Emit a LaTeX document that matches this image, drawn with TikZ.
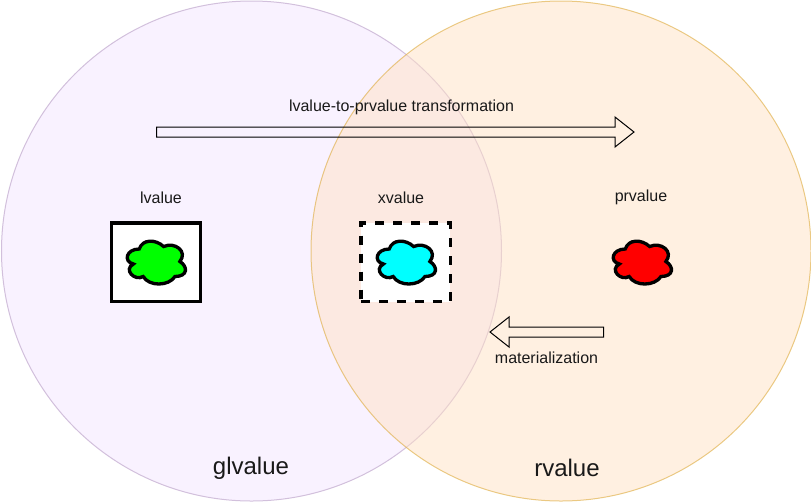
\documentclass[tikz,border=0pt]{standalone}
\usepackage{fontspec}
\setmainfont{Liberation Sans}
\definecolor{lfill}{HTML}{F9F2FF}
\definecolor{lline}{HTML}{D2C0DC}
\definecolor{rfill}{HTML}{FFE1C4}
\definecolor{rline}{HTML}{DDAA3A}
\definecolor{cgreen}{HTML}{00FF00}
\definecolor{ccyan}{HTML}{00FFFF}
\definecolor{cred}{HTML}{FF0000}
\tikzset{
  x=0.75pt,y=-0.75pt,
  lbl/.style={inner sep=0pt,font=\fontsize{12pt}{14pt}\selectfont,text=black!90},
  biglbl/.style={inner sep=0pt,font=\fontsize{18pt}{21pt}\selectfont,text=black!90},
  boxstyle/.style={rectangle,minimum width=67pt,minimum height=59pt,inner sep=0pt,fill=white,draw=black,line width=2.5pt},
  bigarrow/.style={draw=black,line width=0.75pt,line join=miter},
  pics/cloudshape/.style={code={
    \draw[line width=2.5pt,fill=#1,draw=black]
      (16.25,12.5) .. controls (3.25,12.5) and (0,25) .. (10.4,27.5)
      .. controls (0,33) and (11.7,45) .. (20.15,40)
      .. controls (26,50) and (45.5,50) .. (52,40)
      .. controls (65,40) and (65,30) .. (56.875,25)
      .. controls (65,15) and (52,5) .. (40.625,10)
      .. controls (32.5,2.5) and (19.5,2.5) .. (16.25,12.5) -- cycle;
  }}
}
\begin{document}
\begin{tikzpicture}
\useasboundingbox (0,0) rectangle (811,501);
\path[fill=lfill,draw=lline,line width=0.75pt] (251.5,251) circle[radius=250];
\path[fill=rfill,fill opacity=0.5,draw=rline,draw opacity=0.6,line width=0.75pt] (561,251) circle[radius=250];

\node[boxstyle] (lvbox) at (156,262.3) {};
\node[boxstyle,dash pattern=on 6.75pt off 6.75pt] (xvbox) at (405.5,262.3) {};

\pic at (123,236.5) {cloudshape=cgreen};
\pic at (373,236.5) {cloudshape=ccyan};
\pic at (609,236.5) {cloudshape=cred};

\draw[bigarrow] (156.5,127) -- (615,127) -- (615,117) -- (634,132) -- (615,147) -- (615,137) -- (156.5,137) -- cycle;
\draw[bigarrow] (603.5,327) -- (509,327) -- (509,317) -- (490,332) -- (509,347) -- (509,337) -- (603.5,337) -- cycle;

\node[lbl] (top) at (401.5,107.5) {lvalue-to-prvalue transformation};
\node[lbl] (lv) at (161,197.5) {lvalue};
\node[lbl] (xv) at (401,197.5) {xvalue};
\node[lbl] (pv) at (641,197.5) {prvalue};
\node[lbl] (mat) at (546.5,357.5) {materialization};
\node[biglbl] (gl) at (251,468.5) {glvalue};
\node[biglbl] (rv) at (567,467.5) {rvalue};
\end{tikzpicture}
\end{document}
